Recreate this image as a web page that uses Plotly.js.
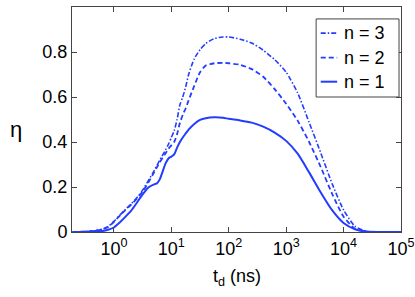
<!DOCTYPE html>
<html>
<head>
<meta charset="utf-8">
<script src="https://cdn.plot.ly/plotly-3.0.1.min.js"></script>
<style>
html,body{margin:0;padding:0;background:#fff;}
#chart{width:415px;height:297px;}
#dbg{position:absolute;left:76px;top:10px;font:9px monospace;color:red;width:200px;white-space:pre-wrap;}
</style>
</head>
<body>
<div id="chart"></div>
<div id="dbg"></div>
<script>
// delay time t_d (ns)
var td = [0.19,0.32,0.5,0.63,0.79,1,1.26,1.58,2,2.51,3.16,3.98,5.01,5.62,6.31,7.94,8.91,10,11.2,12.6,14.1,15.8,17.8,20,25.1,31.6,39.8,56.2,79.4,100,158,251,398,631,1000,1585,2512,3981,6310,10000,15849,25119,39811,100000];
// efficiency eta for each n
var eta_n1 = [0,0,0.002,0.004,0.01,0.02,0.042,0.067,0.095,0.13,0.167,0.198,0.212,0.216,0.235,0.305,0.327,0.335,0.345,0.375,0.40,0.42,0.438,0.455,0.48,0.498,0.506,0.51,0.508,0.503,0.496,0.486,0.468,0.442,0.405,0.348,0.265,0.177,0.097,0.04,0.012,0.002,0,0];
var eta_n2 = [0,0.002,0.007,0.012,0.022,0.045,0.072,0.097,0.122,0.148,0.18,0.22,0.265,0.288,0.31,0.35,0.37,0.385,0.40,0.435,0.485,0.52,0.55,0.585,0.65,0.71,0.74,0.75,0.752,0.75,0.743,0.724,0.69,0.635,0.57,0.495,0.40,0.29,0.17,0.068,0.014,0.002,0,0];
var eta_n3 = [0,0.002,0.007,0.013,0.024,0.047,0.074,0.10,0.125,0.152,0.186,0.228,0.272,0.296,0.32,0.365,0.39,0.42,0.45,0.50,0.565,0.60,0.645,0.70,0.77,0.81,0.838,0.86,0.867,0.867,0.857,0.84,0.808,0.766,0.71,0.618,0.487,0.353,0.215,0.098,0.025,0.003,0,0];
var names = ['n = 3','n = 2','n = 1'];
var xTickVals = [1,10,100,1000,10000,100000];
var xTickText = ['10<sup>0</sup>','10<sup>1</sup>','10<sup>2</sup>','10<sup>3</sup>','10<sup>4</sup>','10<sup>5</sup>'];
var yTickVals = [0,0.2,0.4,0.6,0.8,1];
var yTickText = ['0','0.2','0.4','0.6','0.8','1'];
var xTitle = 't<sub>d</sub> (ns)';
var yTitle = 'η';

var blue = 'rgb(35,60,255)';
var dashes = ['5px,2px,1.5px,2px', '5px,3px', 'solid'];
var widths = [1.6, 1.8, 2];
var series = [eta_n3, eta_n2, eta_n1];

var traces = series.map(function(s, i){
  return {x: td, y: s, name: names[i], mode:'lines', showlegend:false,
          line:{color:blue, width:widths[i], dash:dashes[i], shape:'spline', smoothing:0.6}};
});

// framed key (paper coordinates)
var legX0 = 0.742, legX1 = 0.994, legY0 = 0.60, legY1 = 0.947;
var rowY = [0.884, 0.775, 0.668];
var shapes = [{type:'rect', xref:'paper', yref:'paper', x0:legX0, x1:legX1, y0:legY0, y1:legY1,
               line:{color:'#444', width:1}, fillcolor:'#fff', layer:'above'}];
var annotations = [];
names.forEach(function(nm, i){
  shapes.push({type:'line', xref:'paper', yref:'paper', x0:0.756, x1:0.806, y0:rowY[i], y1:rowY[i],
               line:{color:blue, width:widths[i], dash:dashes[i]}, layer:'above'});
  annotations.push({xref:'paper', yref:'paper', x:0.822, y:rowY[i], xanchor:'left', yanchor:'middle',
                    text:nm, showarrow:false, font:{size:18, color:'#000'}});
});
// axis titles
annotations.push({xref:'paper', yref:'paper', x:0.5, y:-0.2, xanchor:'center', yanchor:'middle',
                  text:xTitle, showarrow:false, font:{size:18, color:'#000'}});
annotations.push({xref:'paper', yref:'paper', x:-0.17, y:0.455, xanchor:'center', yanchor:'middle',
                  text:yTitle, showarrow:false, font:{size:22, color:'#000'}});

var layout = {
  width:415, height:297,
  margin:{l:72, r:14, t:7, b:65},
  font:{family:'Liberation Sans, Arial, sans-serif', size:18, color:'#000'},
  showlegend:false,
  shapes: shapes,
  annotations: annotations,
  xaxis:{type:'log', range:[-0.73,5], tickmode:'array', tickvals:xTickVals, ticktext:xTickText,
         ticks:'inside', ticklen:5, showline:true, mirror:'ticks', gridcolor:'rgba(0,0,0,0)'},
  yaxis:{range:[0,1], tickmode:'array', tickvals:yTickVals, ticktext:yTickText,
         ticks:'inside', ticklen:5, showline:true, mirror:'ticks', gridcolor:'rgba(0,0,0,0)', zerolinecolor:'#444'}
};
var dbg = document.getElementById('dbg');
var done = false;
window.onerror = function(m){ dbg.textContent += 'ONERR ' + m + '\n'; };
Plotly.newPlot('chart', traces, layout, {displayModeBar:false}).then(function(){ done = true; })
  .catch(function(e){ dbg.textContent += 'ERR ' + e + '\n'; });
setTimeout(function(){
  var gd = document.getElementById('chart');
  var nt = gd.querySelectorAll('path.ytick,path.xtick').length;
  var yt = gd.querySelectorAll('.ytick text');
  var fs = yt.length ? (yt[0].style.fontSize || '-') : 'none';
  if (!done || nt === 0 || fs !== '18px') {
    dbg.textContent += 'done:' + done + ' ticks:' + nt + ' ylab:' + yt.length + ' fs:' + fs;
  }
}, 400);
</script>
</body>
</html>
